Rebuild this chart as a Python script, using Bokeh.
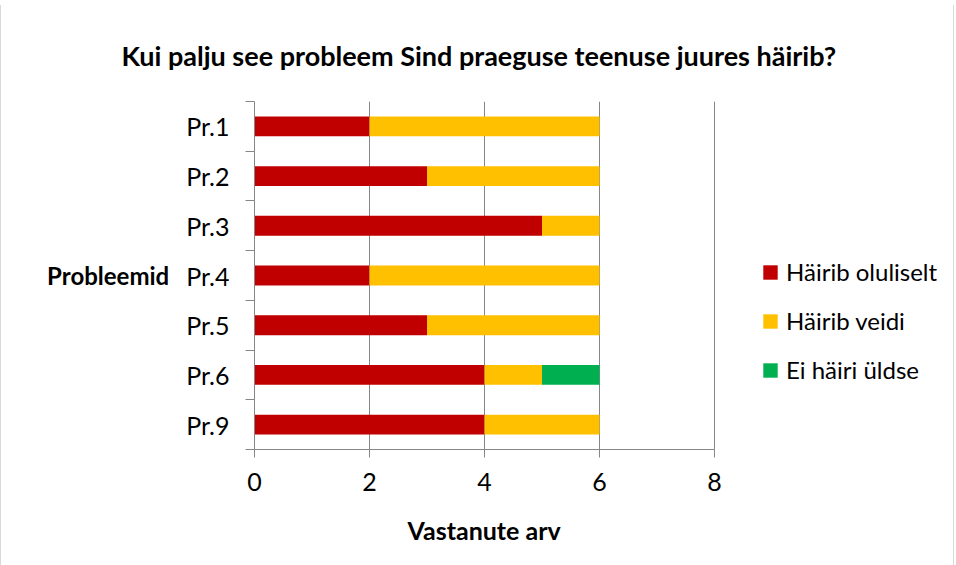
from bokeh.plotting import figure
from bokeh.models import (FactorRange, Range1d, LinearAxis, CategoricalAxis, FixedTicker,
                          Legend, LegendItem, ColumnDataSource, Axis, Title)
from bokeh.embed import file_html
from bokeh.resources import INLINE

problems = ["Pr.1", "Pr.2", "Pr.3", "Pr.4", "Pr.5", "Pr.6", "Pr.9"]
hairib_oluliselt = [2, 3, 5, 2, 3, 4, 4]
hairib_veidi = [4, 3, 1, 4, 3, 1, 2]
ei_hairi_uldse = [0, 0, 0, 0, 0, 1, 0]
series_names = ["Häirib oluliselt", "Häirib veidi", "Ei häiri üldse"]
colors = ["#C00000", "#FFC000", "#00B050"]
x_ticks = [0, 2, 4, 6, 8]
title_text = "Kui palju see probleem Sind praeguse teenuse juures häirib?"
x_label = "Vastanute arv"
y_label = "Probleemid"

FONT = "Lato"
GREY = "#868686"
FS = "25px"

# the frame is widened to the right (x up to 12) so the legend can sit inside it;
# the axis itself is bounded to 0..8 like the reference plot area
X_AXIS_END = 8
X_FRAME_END = 12

src = ColumnDataSource(dict(cat=problems, s0=hairib_oluliselt, s1=hairib_veidi, s2=ei_hairi_uldse))

p = figure(width=954, height=560, y_range=FactorRange(factors=problems[::-1]),
           x_range=Range1d(0, X_FRAME_END), output_backend="svg", toolbar_location=None,
           y_axis_location=None, min_border_left=253, min_border_right=11,
           min_border_top=96, min_border_bottom=116)
p.styles = {"margin-top": "5px", "border-left": "1px solid #d9d9d9",
            "border-right": "1px solid #d9d9d9"}
p.outline_line_color = None
p.background_fill_color = "white"

p.title.text = title_text
p.title.align = "left"
p.title.offset = -133
p.title.text_font = FONT
p.title.text_font_size = "27px"
p.title.text_font_style = "bold"
p.title.text_color = "black"
p.title.standoff = 60

rs = p.hbar_stack(["s0", "s1", "s2"], y="cat", height=0.4, fill_color=colors,
                  line_color=None, source=src)

# boundary ticks between categories (synthetic coordinates of the factor range)
tick_axis = LinearAxis(ticker=FixedTicker(ticks=list(range(len(problems) + 1))),
                       major_label_text_font_size="1px", major_label_text_color=None,
                       major_label_standoff=0,
                       major_tick_out=9, major_tick_in=0, minor_tick_line_color=None,
                       axis_line_color=GREY, major_tick_line_color=GREY)
cat_axis = CategoricalAxis(major_tick_line_color=None, axis_line_color=None,
                           major_label_text_font_size=FS, major_label_text_font=FONT,
                           major_label_standoff=10, major_label_text_color="black",
                           axis_label=y_label, axis_label_text_font=FONT,
                           axis_label_text_font_size="24px", axis_label_text_font_style="bold",
                           axis_label_text_color="black", axis_label_standoff=14)
if "axis_label_orientation" in Axis.properties():
    cat_axis.axis_label_orientation = "horizontal"
p.add_layout(tick_axis, "left")
p.add_layout(cat_axis, "left")

xa = p.xaxis[0]
xa.ticker = FixedTicker(ticks=x_ticks)
xa.bounds = (0, X_AXIS_END)
xa.major_tick_out = 8
xa.major_tick_in = 0
xa.minor_tick_line_color = None
xa.axis_line_color = GREY
xa.major_tick_line_color = GREY
xa.major_label_text_font = FONT
xa.major_label_text_font_size = FS
xa.major_label_text_color = "black"
xa.major_label_standoff = 15

# x axis title, placed under the 0..8 axis (not the widened frame)
p.add_layout(Title(text=x_label, align="left", offset=153, text_font=FONT,
                   text_font_size=FS, text_font_style="bold", text_color="black",
                   standoff=39), "below")

p.xgrid.ticker = FixedTicker(ticks=x_ticks)
p.xgrid.grid_line_color = GREY
p.ygrid.grid_line_color = None

legend = Legend(items=[LegendItem(label=n, renderers=[r]) for n, r in zip(series_names, rs)],
                location=(507, 65), glyph_width=18, glyph_height=18, padding=0, spacing=20,
                label_text_font=FONT, label_text_font_size="24px", label_standoff=7,
                label_text_color="black",
                border_line_color=None, background_fill_alpha=0, margin=0)
p.add_layout(legend)

open("out.html", "w").write(file_html(p, INLINE))
